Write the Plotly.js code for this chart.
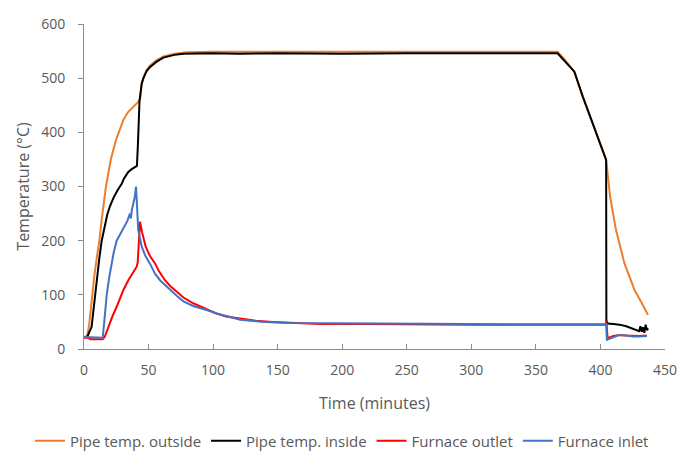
<!DOCTYPE html>
<html>
<head>
<meta charset="utf-8">
<script src="https://cdn.plot.ly/plotly-3.0.1.min.js"></script>
<style>html,body{margin:0;padding:0;background:#fff;}#chart{width:678px;height:455px;}</style>
</head>
<body>
<div id="chart"></div>
<script>
// Pipe temp. outside
var outsideTime = [0, 2.5, 4, 5, 6.4, 8, 10, 11.9, 13.5, 15, 17, 18.8, 21, 24.8, 27.5, 30.5, 34, 38.2, 42, 43.5, 44.7, 46, 48.5, 51, 56, 61.5, 70, 80, 100, 150, 200, 250, 300, 350, 366.8, 372, 379.8, 386.3, 395, 404.4, 407.5, 412, 418.6, 426.4, 432, 436.8];
var outsideTemp = [22, 24, 45, 70, 100, 135, 170, 200, 235, 268, 300, 324, 352, 386, 405, 423, 437, 447, 456, 462, 490, 500, 515, 523, 533, 540, 545, 548, 549, 549, 549, 549, 549, 549, 549, 535, 512, 466, 410, 349, 281, 220, 158, 109, 85, 63];

// Pipe temp. inside
var insideTime = [0, 2, 3, 4.5, 5.9, 7, 8.5, 10, 12, 13.7, 16, 18, 20, 23, 26, 29.2, 31, 34.3, 37, 39.5, 41, 41.8, 42.3, 43, 44.7, 46, 48.5, 51, 56, 61.5, 70, 77, 100, 120, 150, 200, 250, 300, 350, 366.8, 379.8, 386.3, 395, 404.4, 404.6, 405.7, 410, 414.8, 420, 427.7, 430, 431, 432, 433, 434, 435, 436, 437];
var insideTemp = [22, 22, 25, 32, 41, 65, 100, 135, 170, 200, 228, 248, 263, 280, 293, 305, 315, 327, 332, 336, 338, 380, 440, 458, 490, 500, 513, 520, 530, 538, 543, 545, 546, 545, 546, 545, 546, 546, 546, 546, 512, 466, 410, 349, 52, 47, 46, 45, 42, 35, 33, 42, 32, 40, 30, 45, 35, 38];

// Furnace outlet
var outletTime = [0, 3, 5, 14.5, 16, 18.8, 22, 25.3, 28, 30.5, 34.3, 38.2, 40.8, 41.6, 42.5, 43.4, 45, 47.8, 51, 55, 58, 62.7, 67, 71.8, 77, 85, 95, 102, 110, 120, 133, 146, 165, 183, 220, 260, 300, 340, 380, 404, 404.6, 405.5, 410, 415, 420, 425, 430, 436];
var outletTemp = [21, 21, 18, 18, 22, 41, 60, 78, 95, 109, 127, 143, 152, 160, 200, 235, 215, 189, 172, 158, 144, 127, 116, 106, 95, 84, 73, 66, 60, 56, 52, 50, 48, 46, 46, 45, 45, 45, 45, 45, 52, 20, 24, 26, 25, 24, 24, 25];

// Furnace inlet
var inletTime = [0, 5, 14.5, 15.5, 17.6, 19.5, 21.4, 23, 25.3, 28, 31.8, 33.5, 35.6, 36.3, 37, 38.2, 39.3, 40.3, 41, 42, 44.7, 47.5, 51, 55, 58.9, 66.6, 72, 77, 85, 95, 105, 121, 140, 160, 183, 220, 260, 300, 340, 380, 404.4, 405, 406, 410, 414.8, 420, 425, 430, 436];
var inletTemp = [22, 22, 21, 45, 100, 132, 158, 178, 200, 212, 226, 236, 250, 241, 256, 269, 280, 300, 265, 220, 189, 172, 158, 139, 127, 109, 98, 88, 79, 72, 64, 54, 50, 48, 47.5, 47, 46, 46, 45.5, 45.5, 45.5, 17, 18, 22, 26, 25, 23, 23, 24];

var seriesNames = ['Pipe temp. outside', 'Pipe temp. inside', 'Furnace outlet', 'Furnace inlet'];
var seriesColors = ['#ED7D31', '#000000', '#FF0000', '#4472C4'];
var xs = [outsideTime, insideTime, outletTime, inletTime];
var ys = [outsideTemp, insideTemp, outletTemp, inletTemp];

var xTicks = [0, 50, 100, 150, 200, 250, 300, 350, 400, 450];
var yTicks = [0, 100, 200, 300, 400, 500, 600];

var traces = seriesNames.map(function (n, i) {
  return {x: xs[i], y: ys[i], name: n, type: 'scatter', mode: 'lines',
          line: {color: seriesColors[i], width: 2}};
});

var txt = '#595959';
var layout = {
  width: 678, height: 455,
  margin: {l: 84, r: 13, t: 24, b: 106, autoexpand: false},
  paper_bgcolor: '#fff', plot_bgcolor: '#fff',
  font: {family: 'Open Sans, sans-serif', size: 14, color: txt},
  showlegend: true,
  legend: {orientation: 'h', x: -0.093, xanchor: 'left', y: -0.283, yanchor: 'middle',
           font: {size: 15, color: txt}, traceorder: 'normal', itemwidth: 30,
           tracegroupgap: 0},
  xaxis: {range: [0, 450], tickvals: xTicks, ticktext: xTicks.map(String),
          ticks: 'inside', ticklen: 5, tickcolor: '#8c8c8c',
          showline: true, linecolor: '#8c8c8c', linewidth: 1,
          showgrid: false, zeroline: false, ticklabelstandoff: 8,
          title: {text: 'Time (minutes)', font: {size: 16, color: txt}, standoff: 20}},
  yaxis: {range: [0, 600], tickvals: yTicks, ticktext: yTicks.map(String),
          ticks: 'outside', ticklen: 5, tickcolor: '#8c8c8c',
          showline: true, linecolor: '#8c8c8c', linewidth: 1,
          showgrid: false, zeroline: false, ticklabelstandoff: 10,
          title: {text: 'Temperature (°C)', font: {size: 16, color: txt}, standoff: 7}}
};

Plotly.newPlot('chart', traces, layout, {displayModeBar: false, staticPlot: true});
</script>
</body>
</html>
